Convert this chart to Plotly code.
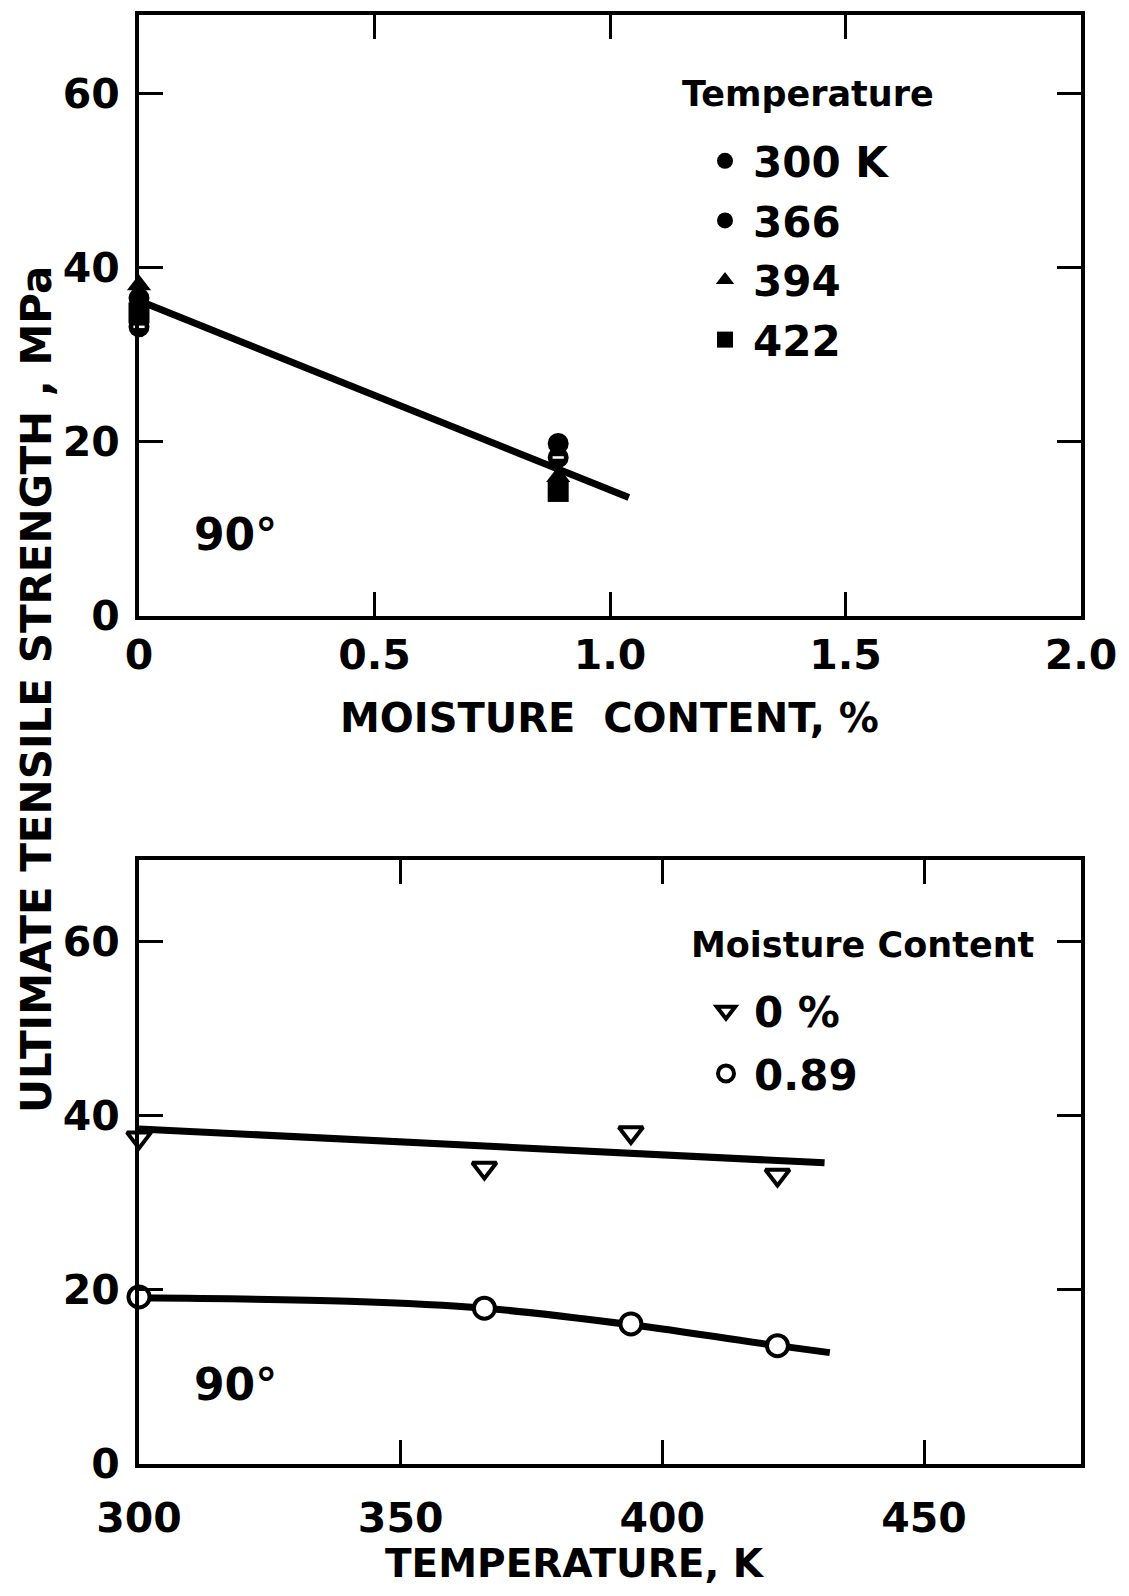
import plotly.graph_objects as go

# upper panel: strength against moisture content, one series per temperature
moisture_pts = [0.0, 0.89]
strength_300k = [36.5, 19.8]
strength_366k = [33.2, 18.2]
strength_394k = [38.0, 16.0]
strength_422k = [34.8, 14.3]
moist_fit_x = [0.0, 1.04]
moist_fit_y = [36.2, 13.6]
temp_labels = ["300 K", "366", "394", "422"]

# lower panel: strength against temperature, dry and wet
temp_pts = [300, 366, 394, 422]
dry_strength = [37.5, 34.0, 38.1, 33.2]
wet_strength = [19.2, 17.9, 16.1, 13.6]
dry_fit_x = [300, 431]
dry_fit_y = [38.5, 34.6]
wet_fit_x = [300, 340, 366, 394, 422, 432]
wet_fit_y = [19.1, 18.7, 17.9, 16.0, 13.6, 12.8]
moist_labels = ["0 %", "0.89"]

FONT = "DejaVu Sans"
# page body keeps its default 8px margin, so the figure is 16px smaller than the window
W, H = 1113, 1580


def px_x(p):
    return p / W


def px_y(p):
    return 1 - p / H


def bold(size):
    return dict(family=FONT, size=size, color="black", weight="bold")


fig = go.Figure()

# fitted lines first so markers sit on top
fig.add_trace(go.Scatter(x=moist_fit_x, y=moist_fit_y, mode="lines", line=dict(color="black", width=7),
                         showlegend=False, xaxis="x", yaxis="y"))
fig.add_trace(go.Scatter(x=dry_fit_x, y=dry_fit_y, mode="lines", line=dict(color="black", width=7),
                         showlegend=False, xaxis="x2", yaxis="y2"))
fig.add_trace(go.Scatter(x=wet_fit_x, y=wet_fit_y, mode="lines", line=dict(color="black", width=7, shape="spline"),
                         showlegend=False, xaxis="x2", yaxis="y2"))

top_series = [strength_300k, strength_366k, strength_394k, strength_422k]
top_symbols = ["circle", "circle", "triangle-up", "square"]
for name, vals, sym in zip(temp_labels, top_series, top_symbols):
    fig.add_trace(go.Scatter(
        x=moisture_pts, y=vals, mode="markers", name=name, legendgroup=name, legend="legend",
        marker=dict(symbol=sym, size=21, color="black", line=dict(width=0)),
        cliponaxis=False, xaxis="x", yaxis="y"))

# the 366 K symbol carries a small white bar across it
fig.add_trace(go.Scatter(
    x=moisture_pts, y=strength_366k, mode="markers", legendgroup="366", showlegend=False,
    marker=dict(symbol="line-ew", size=8, color="white", line=dict(width=2.5, color="white")),
    cliponaxis=False, xaxis="x", yaxis="y"))

bottom_series = [dry_strength, wet_strength]
bottom_symbols = ["triangle-down", "circle"]
for name, vals, sym in zip(moist_labels, bottom_series, bottom_symbols):
    fig.add_trace(go.Scatter(
        x=temp_pts, y=vals, mode="markers", name=name, legendgroup=name, legend="legend2",
        marker=dict(symbol=sym, size=21, color="white", line=dict(width=4, color="black")),
        cliponaxis=False, xaxis="x2", yaxis="y2"))

axis_common = dict(showline=True, linewidth=4, linecolor="black", mirror="ticks", ticks="inside",
                   ticklen=24, tickwidth=3, tickcolor="black", showgrid=False, zeroline=False,
                   automargin=False, tickfont=bold(41))

dom_x = [px_x(131), px_x(1073)]
fig.update_layout(
    width=W, height=H, margin=dict(l=0, r=0, t=0, b=0, autoexpand=False),
    paper_bgcolor="white", plot_bgcolor="white",
    xaxis=dict(domain=dom_x, range=[0, 2], anchor="y", tickvals=[0, 0.5, 1.0, 1.5, 2.0],
               ticktext=["0", "0.5", "1.0", "1.5", "2.0"], **axis_common),
    yaxis=dict(domain=[px_y(608), px_y(7)], range=[0, 69], anchor="x", tickvals=[0, 20, 40, 60],
               ticklabelstandoff=7, **axis_common),
    xaxis2=dict(domain=dom_x, range=[300, 480], anchor="y2", tickvals=[300, 350, 400, 450],
                ticklabelstandoff=15, **axis_common),
    yaxis2=dict(domain=[px_y(1456), px_y(852)], range=[0, 69.4], anchor="x2", tickvals=[0, 20, 40, 60],
                ticklabelstandoff=7, **axis_common),
    legend=dict(x=px_x(689), y=px_y(119), xanchor="left", yanchor="top", bgcolor="rgba(0,0,0,0)",
                font=bold(42), itemwidth=46, tracegroupgap=2),
    legend2=dict(x=px_x(690), y=px_y(969), xanchor="left", yanchor="top", bgcolor="rgba(0,0,0,0)",
                 font=bold(42), itemwidth=46, tracegroupgap=5),
)


def note(text, x, y, size, xref="paper", yref="paper", xanchor="center", yanchor="middle", angle=0):
    fig.add_annotation(x=x, y=y, xref=xref, yref=yref, text=text, showarrow=False, textangle=angle,
                       xanchor=xanchor, yanchor=yanchor, font=bold(size))


note("Temperature", px_x(672), px_y(86), 35, xanchor="left")
note("Moisture Content", px_x(681), px_y(937), 35, xanchor="left")
note("90°", 0.205, 9.4, 44, xref="x", yref="y")
note("90°", 318.4, 9.1, 44, xref="x2", yref="y2")
note("MOISTURE  CONTENT, %", px_x(601), px_y(710), 40)
note("TEMPERATURE, K", px_x(567), px_y(1580), 39, yanchor="bottom")
note("ULTIMATE TENSILE STRENGTH , MPa", px_x(28), px_y(682), 42, angle=-90)

fig.write_html("out.html")
